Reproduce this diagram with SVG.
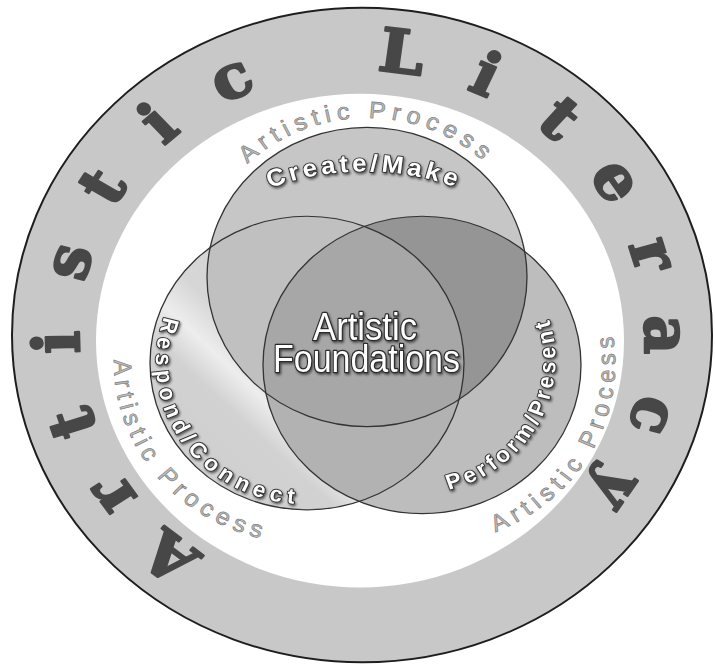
<svg xmlns="http://www.w3.org/2000/svg" width="715" height="666" viewBox="0 0 715 666">
<defs>
<style>
.lit{font-family:"DejaVu Serif","Liberation Serif",serif;font-weight:bold;font-size:64px;fill:#474747;stroke:#474747;stroke-width:2.5px;stroke-linejoin:round;text-anchor:middle}
.proc{font-family:"Liberation Sans",Arial,sans-serif;font-size:25px;letter-spacing:5.8px;fill:#bdbdbd;stroke:#7c7c7c;stroke-width:0.7px;text-anchor:middle}
.ap{font-family:"Liberation Sans",Arial,sans-serif;font-weight:bold;font-size:23px;fill:#ffffff;stroke:#333333;stroke-width:2px;paint-order:stroke;stroke-linejoin:round;text-anchor:middle;filter:url(#sh)}
.found{font-family:"Liberation Sans",Arial,sans-serif;font-size:41px;fill:#ffffff;stroke:#2a2a2a;stroke-width:2.6px;paint-order:stroke;stroke-linejoin:round;text-anchor:middle;filter:url(#sh)}
.edge{fill:none;stroke:#333333;stroke-width:1.3}
</style>
<filter id="sh" x="-10%" y="-30%" width="130%" height="170%">
<feDropShadow dx="1.2" dy="1.8" stdDeviation="1" flood-color="#222222" flood-opacity="0.7"/>
</filter>
<linearGradient id="gL" x1="0" y1="1" x2="1" y2="0">
<stop offset="0" stop-color="#cbcbcb"/>
<stop offset="0.3" stop-color="#d2d2d2"/>
<stop offset="0.37" stop-color="#ededed"/>
<stop offset="0.45" stop-color="#d6d6d6"/>
<stop offset="1" stop-color="#d0d0d0"/>
</linearGradient>
<circle id="cC" cx="5" cy="-62" r="160"/>
<circle id="cL" cx="-55" cy="30" r="157"/>
<circle id="cR" cx="60" cy="32" r="159"/>
<clipPath id="clipC"><use href="#cC"/></clipPath>
<clipPath id="clipR"><use href="#cR"/></clipPath>
<path id="pTop" d="M -165 -62 A 170 170 0 0 1 175 -62"/>
<path id="pBR" d="M -31.8 202.1 A 193 193 0 0 0 151.8 -138.1"/>
<path id="pBL" d="M -174.9 -121.3 A 193 193 0 0 0 64.9 181.3"/>
<path id="pCreate" d="M -253 80 A 255 255 0 0 1 257 80"/>
<path id="pPerform" d="M -7.6 158.6 A 144 144 0 0 0 127.6 -94.6"/>
<path id="pRespond" d="M -139.5 -95.2 A 151 151 0 0 0 29.5 155.2"/>
</defs>
<rect width="715" height="666" fill="#ffffff"/>
<g transform="translate(362 335) scale(1 0.935)">
<g id="ring">
<circle cx="0" cy="0" r="350" fill="#c8c8c8" stroke="#1e1e1e" stroke-width="2"/>
<circle cx="-2" cy="6" r="264" fill="#ffffff"/>
</g>
<g id="artistic-literacy">
<text class="lit" transform="rotate(219) translate(0 -283)">A</text>
<text class="lit" transform="rotate(235.5) translate(0 -283)">r</text>
<text class="lit" transform="rotate(252) translate(0 -283)">t</text>
<text class="lit" transform="rotate(268.5) translate(0 -283)">i</text>
<text class="lit" transform="rotate(285) translate(0 -283)">s</text>
<text class="lit" transform="rotate(301.5) translate(0 -283)">t</text>
<text class="lit" transform="rotate(318) translate(0 -283)">i</text>
<text class="lit" transform="rotate(334.5) translate(0 -283)">c</text>
<text class="lit" transform="rotate(7.5) translate(0 -283)">L</text>
<text class="lit" transform="rotate(24) translate(0 -283)">i</text>
<text class="lit" transform="rotate(40.5) translate(0 -283)">t</text>
<text class="lit" transform="rotate(57) translate(0 -283)">e</text>
<text class="lit" transform="rotate(73.5) translate(0 -283)">r</text>
<text class="lit" transform="rotate(90) translate(0 -283)">a</text>
<text class="lit" transform="rotate(106.5) translate(0 -283)">c</text>
<text class="lit" transform="rotate(123) translate(0 -283)">y</text>
</g>
<g id="venn">
<use href="#cL" fill="url(#gL)"/>
<use href="#cR" fill="#bdbdbd"/>
<use href="#cC" fill="#c6c6c6"/>
<g clip-path="url(#clipC)"><use href="#cL" fill="#c0c0c0"/></g>
<g clip-path="url(#clipC)"><use href="#cR" fill="#959595"/></g>
<g clip-path="url(#clipR)"><use href="#cL" fill="#b2b2b2"/></g>
<g clip-path="url(#clipC)"><g clip-path="url(#clipR)"><use href="#cL" fill="#a7a7a7"/></g></g>
<use href="#cC" class="edge"/>
<use href="#cL" class="edge"/>
<use href="#cR" class="edge"/>
</g>
<g id="create-make">
<text class="proc"><textPath href="#pTop" startOffset="50%">Artistic Process</textPath></text>
<text class="ap" style="font-size:26px;letter-spacing:3.6px"><textPath href="#pCreate" startOffset="50%">Create/Make</textPath></text>
</g>
<g id="perform-present">
<text class="proc"><textPath href="#pBR" startOffset="50%">Artistic Process</textPath></text>
<text class="ap" style="letter-spacing:3.8px"><textPath href="#pPerform" startOffset="50%">Perform/Present</textPath></text>
</g>
<g id="respond-connect">
<text class="proc"><textPath href="#pBL" startOffset="50%">Artistic Process</textPath></text>
<text class="ap" style="letter-spacing:5.6px"><textPath href="#pRespond" startOffset="50%">Respond/Connect</textPath></text>
</g>
<g id="artistic-foundations">
<text class="found" x="3" y="5.3" textLength="104" lengthAdjust="spacingAndGlyphs">Artistic</text>
<text class="found" x="4.5" y="39.6" textLength="187" lengthAdjust="spacingAndGlyphs">Foundations</text>
</g>
<g id="connectors"/>
</g>
</svg>
